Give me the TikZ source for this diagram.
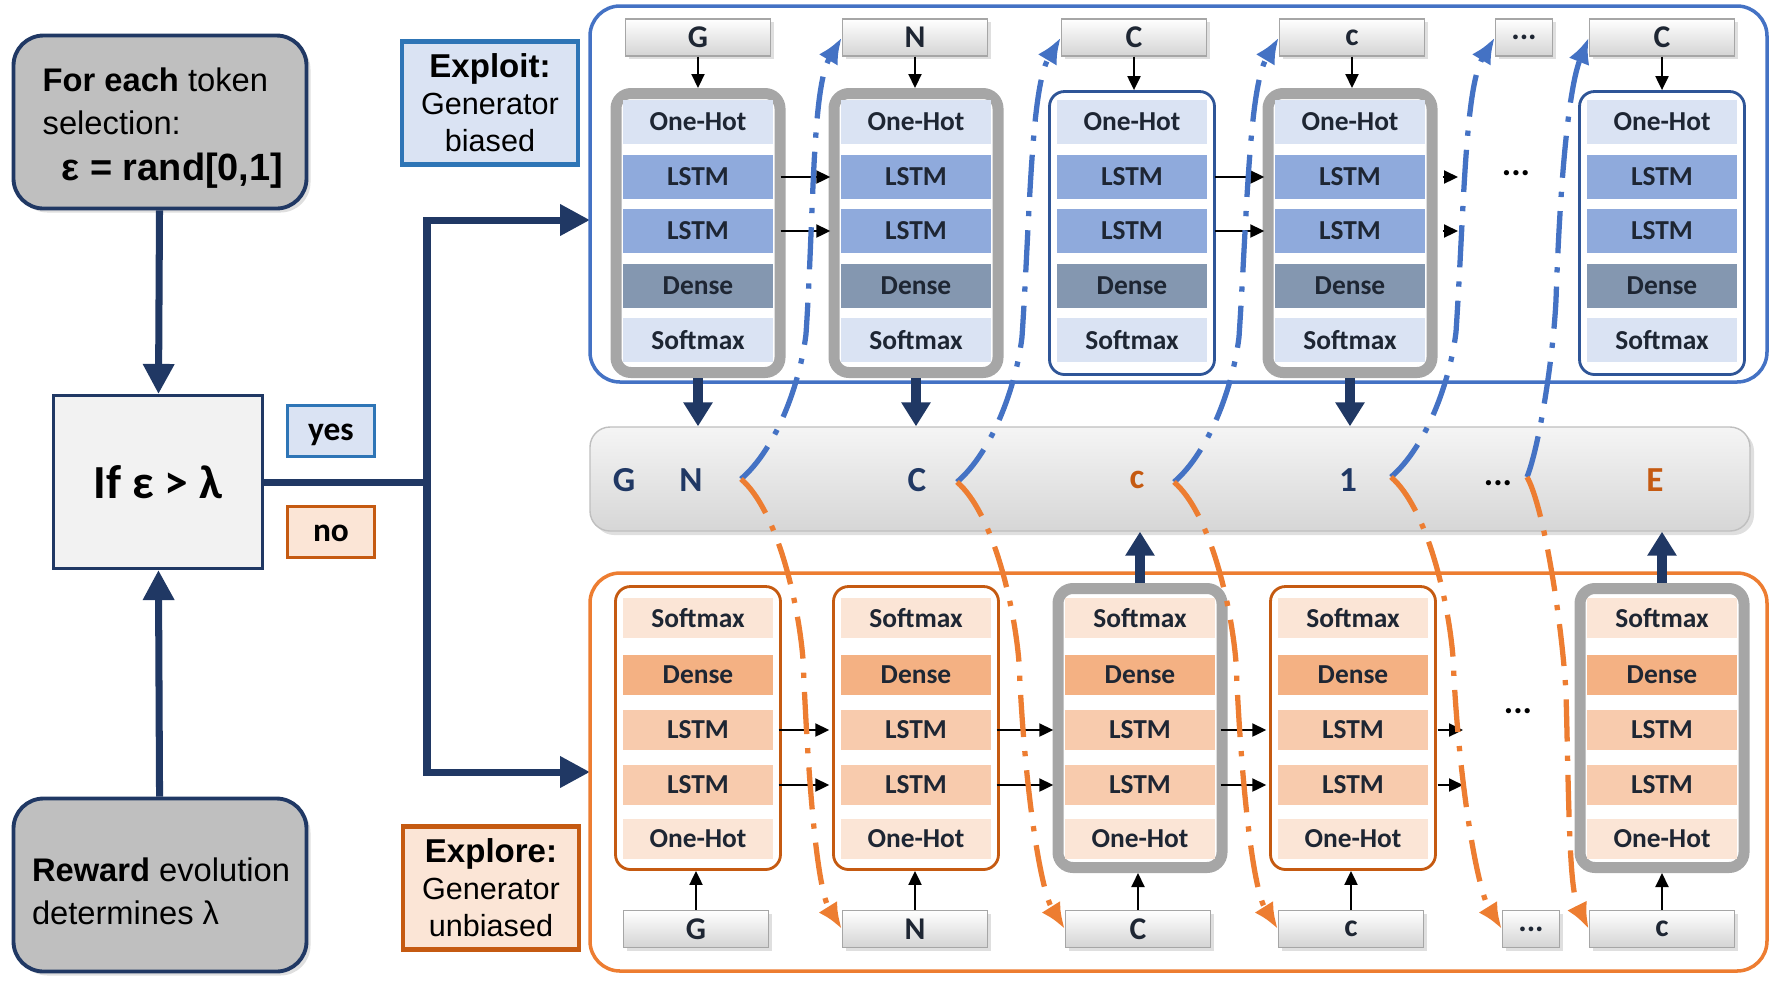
\documentclass[tikz,border=0pt]{standalone}
\usepackage{fontspec}
\setmainfont{Liberation Sans}
\newfontfamily\calib{Carlito}
\usepackage{tikz}
\usetikzlibrary{arrows.meta,shadows,calc,positioning}

\definecolor{navy}{HTML}{203864}
\definecolor{darktxt}{HTML}{1E2633}
\definecolor{boxgray}{HTML}{BFBFBF}
\definecolor{ifgray}{HTML}{F2F2F2}
\definecolor{frgray}{HTML}{A6A6A6}
\definecolor{frtint}{HTML}{F0F1F9}
\definecolor{bluebd}{HTML}{2E75B6}
\definecolor{bluefr}{HTML}{4472C4}
\definecolor{bluecell}{HTML}{2F5597}
\definecolor{bluelt}{HTML}{DAE3F3}
\definecolor{bluemd}{HTML}{8FAADC}
\definecolor{bluedk}{HTML}{8497B0}
\definecolor{orbd}{HTML}{C55A11}
\definecolor{orfr}{HTML}{ED7D31}
\definecolor{orlt}{HTML}{FBE5D6}
\definecolor{ormd}{HTML}{F8CBAD}
\definecolor{ordk}{HTML}{F4B183}

\begin{document}
\begin{tikzpicture}[x=0.1mm,y=-0.1mm]
\tikzstyle{every node}=[inner sep=0pt, text=darktxt];
\tikzstyle{decbox}=[draw=navy, line width=1.1pt, fill=boxgray, rounded corners=3mm,
  minimum width=29.3mm, minimum height=17.3mm,
  drop shadow={shadow xshift=0.4mm, shadow yshift=-0.4mm, opacity=0.25}];
\tikzstyle{dectext}=[align=left, text=black, font=\fontsize{9.3}{12.2}\selectfont];
\tikzstyle{ifbox}=[draw=navy, line width=0.9pt, fill=ifgray, minimum width=20.9mm,
  minimum height=17.3mm, text=black, font=\calib\bfseries\fontsize{13.5}{15}\selectfont];
\tikzstyle{tagbox}=[line width=1pt, minimum width=8.7mm, minimum height=5.1mm,
  text height=1ex, text depth=0pt,
  text=black, font=\calib\bfseries\fontsize{9.5}{11}\selectfont];
\tikzstyle{modebox}=[line width=1.4pt, minimum width=17.6mm, minimum height=12.3mm,
  align=center, text=black, font=\fontsize{8.7}{10.5}\selectfont];
\tikzstyle{modeframe}=[rounded corners=3mm, line width=1pt, minimum width=117.7mm];
\tikzstyle{grayframe}=[draw=frgray, line width=1.1mm, rounded corners=1.5mm,
  fill=white, minimum width=16.4mm, minimum height=27.9mm];
\tikzstyle{blueframe}=[draw=bluecell, line width=0.8pt, rounded corners=1.5mm,
  fill=white, minimum width=16.5mm, minimum height=28.3mm];
\tikzstyle{orframe}=[blueframe, draw=orbd];
\tikzstyle{cell}=[minimum width=15mm, minimum height=4.4mm,
  font=\calib\bfseries\fontsize{7.8}{9}\selectfont];
\tikzstyle{token}=[draw=black!35, top color=white, bottom color=black!17,
  minimum width=14.5mm, minimum height=3.7mm,
  font=\calib\bfseries\fontsize{9}{10}\selectfont,
  drop shadow={shadow xshift=0.3mm, shadow yshift=-0.3mm, opacity=0.25}];
\tikzstyle{tokenbar}=[draw=black!25, top color=black!4, bottom color=black!16,
  rounded corners=2mm, minimum width=116mm, minimum height=10.4mm,
  drop shadow={shadow xshift=0.4mm, shadow yshift=-0.4mm, opacity=0.25}];
\tikzstyle{bartok}=[font=\calib\bfseries\fontsize{10}{12}\selectfont];
\tikzstyle{navyarrow}=[draw=navy, line width=2pt, -{Triangle[length=3mm,width=3mm]}];
\tikzstyle{fatarrow}=[draw=navy, line width=2.8pt, -{Triangle[length=2.4mm,width=2.8mm]}];
\tikzstyle{thinarrow}=[draw=black, line width=0.6pt, -{Triangle[length=1.4mm,width=1.3mm]}];
\tikzstyle{flowline}=[line width=1.5pt, dash pattern=on 12pt off 4pt on 1.5pt off 4pt,
  -{Latex[length=2.6mm,width=2.2mm]}];
\tikzstyle{blueflow}=[flowline, draw=bluefr];
\tikzstyle{orflow}=[flowline, draw=orfr];

\useasboundingbox (0,0) rectangle (1770,988);

% left column
\node[decbox] (each) at (160,122) {};
\node[dectext] (eachtxt) at (163,128) {\textbf{For each} token\\selection:\\[1pt]
  \hspace*{1.9mm}{\fontsize{10.8}{13}\selectfont\textbf{ε = rand[0,1]}}};
\node[ifbox] (if) at (158,482) {If ε > λ};
\node[decbox] (reward) at (160,885) {};
\node[dectext] (rewardtxt) at (161,891) {\textbf{Reward} evolution\\determines λ};
\node[tagbox, draw=bluebd, fill=bluelt] (yes) at (331,431) {yes};
\node[tagbox, draw=orbd, fill=orlt] (no) at (331,532) {no};
\node[modebox, draw=bluebd, fill=bluelt] (exploit) at (490,103)
  {{\fontsize{9.4}{11}\selectfont\textbf{Exploit:}}\\Generator\\biased};
\node[modebox, draw=orbd, fill=orlt] (explore) at (491,888)
  {{\fontsize{9.4}{11}\selectfont\textbf{Explore:}}\\Generator\\unbiased};

\draw[navyarrow] (each) -- (if);
\draw[navyarrow] (reward) -- (if);
\coordinate (split) at (427,482);
\coordinate (topin) at (590,220);
\coordinate (botin) at (590,772);
\draw[draw=navy, line width=2pt] (if) -- (split);
\draw[navyarrow] (split) |- (topin);
\draw[navyarrow] (split) |- (botin);

% the two generator frames and the token bar
\node[modeframe, draw=bluefr, minimum height=37.6mm] (exploitbox) at (1178.5,194) {};
\node[modeframe, draw=orfr, minimum height=39.8mm] (explorebox) at (1178.5,772) {};
\node[tokenbar] (bar) at (1170,479) {};

% exploit: biased generator
\foreach \c/\x/\fr in {1/698/grayframe, 2/916/grayframe, 3/1132/blueframe, 4/1350/grayframe, 6/1662/blueframe}{
  \node[\fr] (tf\c) at (\x,233) {};
  \foreach \r/\y/\lab/\cl in {1/122/One-Hot/bluelt, 2/177/LSTM/bluemd, 3/231/LSTM/bluemd, 4/286/Dense/bluedk, 5/340/Softmax/bluelt}
    \node[cell, fill=\cl] (t\c-\r) at (\x,\y) {\lab};
}
\foreach \c/\x/\t in {1/698/G, 2/915/N, 3/1134/C, 4/1352/c, 6/1662/C}
  \node[token] (tt\c) at (\x,37.5) {\t};
\node[token, minimum width=5.7mm] (tt5) at (1524,37.5) {...};
\foreach \c in {1,2,3,4,6}
  \draw[thinarrow] (tt\c) -- (tt\c |- tf\c.north);
\foreach \a/\b in {1/2, 3/4}
  \foreach \r in {2,3}
    \draw[thinarrow, shorten <=0.7mm, shorten >=1mm] (t\a-\r) -- (t\b-\r);
\node[bartok, text=black] (tdots) at (1516,173) {...};
\coordinate (td2) at (1458,177);
\coordinate (td3) at (1458,231);
\draw[thinarrow, shorten <=1.7mm] (t4-2) -- (td2);
\draw[thinarrow, shorten <=1.7mm] (t4-3) -- (td3);

% explore: unbiased generator
\foreach \c/\x/\fr in {1/698/orframe, 2/916/orframe, 3/1140/grayframe, 4/1353/orframe, 6/1662/grayframe}{
  \node[\fr] (bf\c) at (\x,728) {};
  \foreach \r/\y/\lab/\cl in {1/618/Softmax/orlt, 2/675/Dense/ordk, 3/730/LSTM/ormd, 4/785/LSTM/ormd, 5/839/One-Hot/orlt}
    \node[cell, fill=\cl, minimum height=4mm] (b\c-\r) at (\x,\y) {\lab};
}
\foreach \c/\x/\t in {1/696/G, 2/915/N, 3/1138/C, 4/1351/c, 6/1662/c}
  \node[token] (bt\c) at (\x,929) {\t};
\node[token, minimum width=5.7mm] (bt5) at (1531,929) {...};
\foreach \c in {1,2,3,4,6}
  \draw[thinarrow] (bt\c) -- (bt\c |- bf\c.south);
\foreach \a/\b in {1/2, 2/3, 3/4}
  \foreach \r in {3,4}
    \draw[thinarrow, shorten <=0.5mm, shorten >=1.1mm] (b\a-\r) -- (b\b-\r);
\node[bartok, text=black] (bdots) at (1518,711) {...};
\coordinate (bd3) at (1463,730);
\coordinate (bd4) at (1463,785);
\draw[thinarrow, shorten <=0.9mm] (b4-3) -- (bd3);
\draw[thinarrow, shorten <=0.9mm] (b4-4) -- (bd4);

% chosen tokens into the bar
\foreach \c in {1,2,4}
  \draw[fatarrow] (tf\c) -- (tf\c |- bar.north);
\foreach \c in {3,6}
  \draw[fatarrow] (bf\c) -- (bf\c |- bar.south);
\foreach \t/\x/\cl [count=\i] in {G/624/navy, N/691/navy, C/917/navy, c/1137/orbd, 1/1348/navy}
  \node[bartok, text=\cl] (m\i) at (\x,480) {\t};
\node[bartok, text=black] (m6) at (1498,483) {...};
\node[bartok, text=orbd] (m7) at (1655,480) {E};

% each token feeds both generators
\foreach \i/\j/\x/\y in {1/2/741/479, 2/3/957/482, 3/4/1174/482, 4/5/1391/477}{
  \coordinate (s\i) at (\x,\y);
  \coordinate (u\i) at ($(s\i)+(65,-145)$);
  \coordinate (v\i) at ($(s\i)+(62,180)$);
  \draw[blueflow] (s\i) .. controls +(35,-30) and +(-6,50) .. (u\i)
    .. controls +(8,-120) and +(-30,50) .. (tt\j.west);
  \draw[orflow] (s\i) .. controls +(35,30) and +(-5,-60) .. (v\i)
    .. controls +(5,120) and +(-25,-40) .. (bt\j.west);
}
\coordinate (s5) at (1527,477);
\coordinate (u5) at (1556,300);
\coordinate (v5) at (1566,693);
\draw[blueflow] (s5) .. controls +(12,-30) and +(-3,60) .. (u5)
  .. controls +(4,-120) and +(-20,50) .. (tt6.west);
\draw[orflow] (s5) .. controls +(17,30) and +(-4,-70) .. (v5)
  .. controls +(3,110) and +(-20,-40) .. (bt6.west);

\end{tikzpicture}
\end{document}
